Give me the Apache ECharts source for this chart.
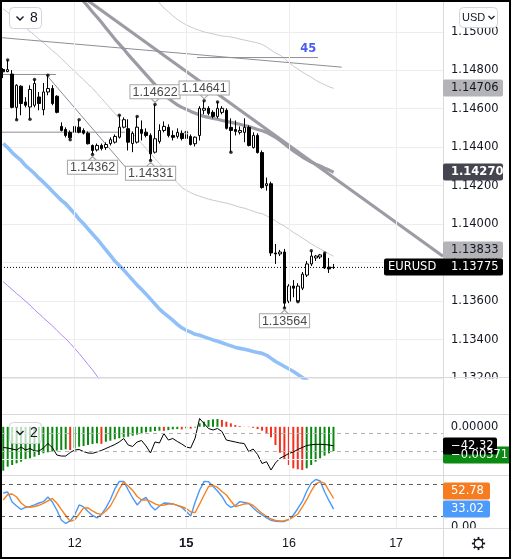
<!DOCTYPE html>
<html>
<head>
<meta charset="utf-8">
<script src="https://cdn.jsdelivr.net/npm/echarts@6.0.0/dist/echarts.min.js"></script>
<style>
html,body{margin:0;padding:0;background:#fff;}
#main{width:511px;height:559px;}
</style>
</head>
<body>
<div id="main"></div>
<script>
var chart = echarts.init(document.getElementById('main'));

// hourly EURUSD bars
var opens = [
  1.14804, 1.14793, 1.14780, 1.14607, 1.14717, 1.14635, 1.14609, 1.14618, 1.14661, 1.14595,
  1.14687, 1.14705, 1.14665, 1.14508, 1.14492, 1.14477, 1.14478, 1.14504, 1.14487, 1.14473,
  1.14409, 1.14386, 1.14409, 1.14398, 1.14419, 1.14426, 1.14452, 1.14504, 1.14496, 1.14419,
  1.14426, 1.14492, 1.14478, 1.14461, 1.14374, 1.14430, 1.14487, 1.14503, 1.14461, 1.14456,
  1.14472, 1.14445, 1.14456, 1.14418, 1.14461, 1.14592, 1.14602, 1.14581, 1.14560, 1.14581,
  1.14592, 1.14503, 1.14492, 1.14477, 1.14477, 1.14503, 1.14398, 1.14461, 1.14372, 1.14200,
  1.14210, 1.13850, 1.13845, 1.13855, 1.13599, 1.13678, 1.13599, 1.13667, 1.13735, 1.13793,
  1.13824, 1.13829, 1.13845, 1.13777, 1.13774
];
var closes = [
  1.14792, 1.14803, 1.14607, 1.14722, 1.14627, 1.14618, 1.14700, 1.14731, 1.14627, 1.14687,
  1.14705, 1.14627, 1.14581, 1.14487, 1.14461, 1.14449, 1.14508, 1.14478, 1.14473, 1.14418,
  1.14383, 1.14409, 1.14393, 1.14414, 1.14439, 1.14456, 1.14504, 1.14543, 1.14426, 1.14472,
  1.14504, 1.14472, 1.14461, 1.14366, 1.14444, 1.14487, 1.14508, 1.14461, 1.14451, 1.14477,
  1.14445, 1.14466, 1.14414, 1.14452, 1.14602, 1.14602, 1.14576, 1.14560, 1.14602, 1.14602,
  1.14498, 1.14487, 1.14482, 1.14487, 1.14503, 1.14409, 1.14461, 1.14372, 1.14190, 1.14210,
  1.13850, 1.13845, 1.13855, 1.13589, 1.13678, 1.13667, 1.13678, 1.13740, 1.13793, 1.13834,
  1.13834, 1.13840, 1.13772, 1.13767, 1.13775
];
var lows = [
  1.14759, 1.14790, 1.14602, 1.14543, 1.14566, 1.14607, 1.14545, 1.14607, 1.14592, 1.14566,
  1.14670, 1.14618, 1.14576, 1.14482, 1.14451, 1.14439, 1.14472, 1.14472, 1.14466, 1.14414,
  1.14362, 1.14378, 1.14383, 1.14386, 1.14409, 1.14419, 1.14445, 1.14498, 1.14383, 1.14374,
  1.14419, 1.14435, 1.14451, 1.14331, 1.14367, 1.14419, 1.14477, 1.14451, 1.14435, 1.14445,
  1.14435, 1.14435, 1.14409, 1.14404, 1.14435, 1.14571, 1.14566, 1.14550, 1.14550, 1.14571,
  1.14492, 1.14374, 1.14461, 1.14466, 1.14426, 1.14404, 1.14393, 1.14367, 1.14184, 1.14174,
  1.13834, 1.13793, 1.13834, 1.13564, 1.13589, 1.13620, 1.13597, 1.13657, 1.13725, 1.13782,
  1.13808, 1.13819, 1.13767, 1.13746, 1.13767
];
var highs = [
  1.14811, 1.14853, 1.14801, 1.14727, 1.14722, 1.14660, 1.14722, 1.14752, 1.14687, 1.14734,
  1.14774, 1.14722, 1.14670, 1.14529, 1.14503, 1.14487, 1.14519, 1.14543, 1.14498, 1.14482,
  1.14414, 1.14419, 1.14419, 1.14425, 1.14451, 1.14466, 1.14566, 1.14555, 1.14545, 1.14482,
  1.14560, 1.14539, 1.14498, 1.14472, 1.14622, 1.14519, 1.14534, 1.14519, 1.14487, 1.14498,
  1.14487, 1.14477, 1.14466, 1.14456, 1.14613, 1.14641, 1.14613, 1.14592, 1.14635, 1.14613,
  1.14602, 1.14550, 1.14539, 1.14508, 1.14550, 1.14513, 1.14477, 1.14472, 1.14383, 1.14242,
  1.14221, 1.13897, 1.13866, 1.13871, 1.13688, 1.13709, 1.13693, 1.13751, 1.13808, 1.13861,
  1.13840, 1.13845, 1.13850, 1.13824, 1.13793
];

// bars that carry a fractal dot, and the bars with a high/low price tag
var fractalHighIdx = [1, 7, 10, 17, 26, 30, 34, 41, 45, 48, 69, 72];
var fractalLowIdx = [3, 6, 15, 20, 33, 51, 63, 66];
var tagLowIdx = [20, 33, 63];
var tagHighIdx = [34, 45];

// channel lines (grey) - upper starts at bar 32, basis at bar 17
var upperStart = 32;
var upperBand = [
  1.15216, 1.15195, 1.15177, 1.15150, 1.15124, 1.15103, 1.15083, 1.15064, 1.15049, 1.15036,
  1.15025, 1.15015, 1.15007, 1.14999, 1.14994, 1.14989, 1.14983, 1.14978, 1.14976, 1.14973,
  1.14968, 1.14962, 1.14957, 1.14952, 1.14947, 1.14942, 1.14934, 1.14921, 1.14905, 1.14889,
  1.14879, 1.14861, 1.14840, 1.14821, 1.14806, 1.14790, 1.14777, 1.14764, 1.14748, 1.14735,
  1.14725, 1.14714, 1.14706
];
var basisStart = 17;
var basisLine = [
  1.15184, 1.15158, 1.15132, 1.15103, 1.15077, 1.15049, 1.15020, 1.14991, 1.14962, 1.14936,
  1.14910, 1.14881, 1.14855, 1.14829, 1.14803, 1.14777, 1.14751, 1.14725, 1.14699, 1.14675,
  1.14654, 1.14636, 1.14620, 1.14607, 1.14597, 1.14586, 1.14576, 1.14568, 1.14560, 1.14555,
  1.14550, 1.14545, 1.14539, 1.14534, 1.14529, 1.14524, 1.14519, 1.14513, 1.14508, 1.14500,
  1.14492, 1.14485, 1.14477, 1.14464, 1.14451, 1.14435, 1.14417, 1.14398, 1.14380, 1.14365,
  1.14349, 1.14336, 1.14323, 1.14312, 1.14302, 1.14291, 1.14281, 1.14270
];
var lowerBand = [
  1.15119, 1.15101, 1.15080, 1.15062, 1.15041, 1.15022, 1.15002, 1.14983, 1.14962, 1.14944,
  1.14923, 1.14902, 1.14884, 1.14861, 1.14840, 1.14816, 1.14795, 1.14772, 1.14751, 1.14727,
  1.14707, 1.14680, 1.14654, 1.14628, 1.14602, 1.14576, 1.14550, 1.14524, 1.14498, 1.14472,
  1.14445, 1.14419, 1.14393, 1.14367, 1.14341, 1.14315, 1.14289, 1.14263, 1.14239, 1.14216,
  1.14190, 1.14177, 1.14163, 1.14153, 1.14145, 1.14137, 1.14130, 1.14124, 1.14119, 1.14114,
  1.14109, 1.14103, 1.14096, 1.14088, 1.14083, 1.14075, 1.14067, 1.14059, 1.14054, 1.14043,
  1.14030, 1.14017, 1.14002, 1.13989, 1.13973, 1.13957, 1.13944, 1.13928, 1.13913, 1.13897,
  1.13884, 1.13871, 1.13858, 1.13845, 1.13833
];
// slow averages, visible until they leave the bottom of the pane
var blueAvg = [
  1.14419, 1.14398, 1.14372, 1.14351, 1.14331, 1.14304, 1.14284, 1.14263, 1.14239, 1.14218,
  1.14195, 1.14171, 1.14148, 1.14124, 1.14106, 1.14080, 1.14054, 1.14025, 1.14002, 1.13975,
  1.13949, 1.13923, 1.13895, 1.13866, 1.13837, 1.13808, 1.13785, 1.13761, 1.13735, 1.13709,
  1.13683, 1.13660, 1.13636, 1.13610, 1.13584, 1.13558, 1.13537, 1.13519, 1.13500, 1.13479,
  1.13461, 1.13448, 1.13438, 1.13427, 1.13422, 1.13414, 1.13406, 1.13398, 1.13391, 1.13383,
  1.13375, 1.13367, 1.13359, 1.13354, 1.13349, 1.13344, 1.13338, 1.13333, 1.13328, 1.13318,
  1.13302, 1.13286, 1.13273, 1.13260, 1.13247, 1.13234, 1.13218, 1.13203, 1.13187, 1.13171
];
var purpleAvg = [
  1.13701, 1.13680, 1.13660, 1.13639, 1.13620, 1.13599, 1.13579, 1.13555, 1.13534, 1.13513,
  1.13492, 1.13472, 1.13448, 1.13425, 1.13404, 1.13380, 1.13354, 1.13328, 1.13299, 1.13270,
  1.13242, 1.13210, 1.13179
];

// hand drawn lines, [bar, price] end points
var thickTrend = [[19.0, 1.15161], [98.5, 1.13833]];
var thinTrends = [
  [[-0.72, 1.14778], [11.8, 1.14778]],
  [[9.74, 1.14774], [27.72, 1.14287]],
  [[-0.72, 1.14478], [27.3, 1.14478]],
  [[-0.72, 1.14970], [75.8, 1.14816]],
  [[43.4, 1.14866], [70.5, 1.14866]]
];
var rangeText = '45';
var rangeTextAt = [68.1, 1.14910];

// lower panes
var histogram = [
  -0.00669, -0.00608, -0.00582, -0.00556, -0.00532, -0.00506, -0.00480, -0.00456, -0.00430, -0.00404,
  -0.00389, -0.00380, -0.00364, -0.00354, -0.00343, -0.00354, -0.00328, -0.00303, -0.00293, -0.00277,
  -0.00262, -0.00252, -0.00260, -0.00227, -0.00212, -0.00191, -0.00175, -0.00160, -0.00151, -0.00136,
  -0.00120, -0.00099, -0.00084, -0.00075, -0.00064, -0.00059, -0.00062, -0.00050, -0.00038, -0.00034,
  -0.00040, -0.00023, -0.00028, -0.00010, 0.00053, 0.00078, 0.00104, 0.00114, 0.00119, 0.00104,
  0.00078, 0.00053, 0.00027, 0.00012, 0.00002, -0.00004, -0.00015, -0.00035, -0.00059, -0.00099,
  -0.00160, -0.00277, -0.00395, -0.00506, -0.00582, -0.00633, -0.00648, -0.00659, -0.00633, -0.00582,
  -0.00532, -0.00480, -0.00440, -0.00405, -0.00371
];
var cci = [
  -61, -67, -78, -89, -56, -89, -72, -100, -100, -67,
  -17, -61, -144, -156, -156, -117, -89, -83, -106, -122,
  -126, -111, -94, -72, -50, -28, 0, 39, -33, -50,
  0, 17, -44, -122, 0, -11, 94, 22, 39, 6,
  -22, -56, -67, 44, 261, 206, 150, 133, 150, 117,
  22, 11, 0, -11, -17, -106, -78, -139, -239, -219,
  -311, -233, -181, -156, -128, -111, -83, -61, -39, -31,
  -26, -26, -28, -33, -42.32
];
var stochK = [
  63.2, 65.1, 46.3, 38.8, 32.3, 36.0, 37.9, 40.7, 44.4, 46.9,
  55.7, 46.3, 31.3, 12.6, 6.0, 10.7, 21.9, 40.7, 36.9, 28.5,
  21.0, 16.3, 22.9, 35.1, 51.0, 70.7, 84.8, 84.8, 68.8, 53.8,
  40.7, 50.1, 54.8, 39.8, 31.3, 38.8, 44.4, 43.9, 42.6, 39.8,
  36.0, 28.5, 20.1, 46.3, 68.8, 84.8, 84.4, 75.4, 66.9, 56.6,
  42.6, 36.0, 39.8, 46.9, 45.4, 43.5, 35.1, 27.6, 21.9, 16.3,
  12.0, 10.1, 9.4, 9.8, 13.5, 21.9, 34.1, 47.3, 66.9, 81.9,
  88.5, 85.7, 65.1, 48.2, 33.02
];
var stochD = [
  50.1, 60.4, 61.3, 55.7, 44.4, 37.9, 36.4, 37.9, 40.1, 43.5,
  48.2, 52.9, 44.4, 32.3, 21.0, 9.8, 12.6, 23.8, 35.1, 35.1,
  29.4, 24.8, 22.9, 29.4, 38.8, 53.8, 70.7, 83.8, 76.3, 67.9,
  56.6, 50.1, 50.1, 47.3, 42.6, 39.8, 40.7, 42.2, 42.6, 39.8,
  37.3, 34.1, 27.6, 26.6, 42.6, 59.4, 75.4, 77.3, 73.5, 66.0,
  59.4, 48.2, 37.9, 39.8, 42.6, 43.5, 39.8, 32.3, 24.8, 19.1,
  14.4, 11.6, 10.7, 11.1, 13.5, 18.2, 23.8, 36.9, 51.0, 66.9,
  80.1, 84.4, 81.0, 66.9, 52.78
];
var cciLevels = [100, -100];
var stochLevels = [80, 20];
var histGridLevel = -0.005;

// time axis: 99 hourly slots, day labels at these slots
var slotCount = 99;
var dayTickIdx = [16, 41, 64, 88];
var dayTickText = ['12', '15', '16', '17'];
var boldDay = '15';

var slots = [];
for (var s = 0; s < slotCount; s++) slots.push(String(s));

function fromBar(start, vals) {
  return vals.map(function (v, k) { return [start + k, v]; });
}
function near(a, b) { return Math.abs(a - b) < 1e-7; }
function signed(v, d) { return (v < 0 ? '\u2212' : '') + Math.abs(v).toFixed(d); }

var GRID_C = '#ededf0';
var TXT = '#131722';
var FONT = 'DejaVu Sans';
var UP_GREEN = '#0a8a10';
var DOWN_RED = '#f4301d';

var series = [];
function add(s) { series.push(s); return series.length - 1; }

// vertical day lines across all panes
add({
  type: 'line', xAxisIndex: 4, yAxisIndex: 4, silent: true, z: 1,
  data: slots.map(function () { return null; }),
  markLine: {
    silent: true, symbol: ['none', 'none'], label: {show: false}, precision: 6,
    lineStyle: {color: GRID_C, width: 1, type: 'solid'},
    data: dayTickIdx.map(function (i) { return {xAxis: i}; })
  }
});

function priceLine(data, color, width) {
  return {type: 'line', xAxisIndex: 0, yAxisIndex: 0, data: data, symbol: 'none',
    silent: true, z: 2, lineStyle: {color: color, width: width}};
}
add(priceLine(fromBar(upperStart, upperBand), '#c9c9ce', 1));
add(priceLine(fromBar(0, lowerBand), '#c9c9ce', 1));
add(priceLine(fromBar(basisStart, basisLine), '#9c9ca5', 3.2));
add(priceLine(fromBar(0, blueAvg), '#91c0f8', 3.6));
add(priceLine(fromBar(0, purpleAvg), '#b186f6', 1));

var trendIdx = add({type: 'line', xAxisIndex: 1, yAxisIndex: 0, data: thickTrend, symbol: 'none',
  silent: true, z: 2, lineStyle: {color: '#9c9ca5', width: 3.2}});
thinTrends.forEach(function (seg) {
  add({type: 'line', xAxisIndex: 1, yAxisIndex: 0, data: seg, symbol: 'none',
    silent: true, z: 2, lineStyle: {color: '#8e8e96', width: 1}});
});

// dotted last-price line
var lastClose = closes[closes.length - 1];
add({type: 'line', xAxisIndex: 1, yAxisIndex: 0, symbol: 'none', silent: true, z: 2,
  data: [[-0.5, lastClose], [slotCount - 0.5, lastClose]],
  lineStyle: {color: '#000', width: 1, type: [1, 2]}});

var tagLabel = {
  show: true, distance: 0, color: '#4a4a4a', fontFamily: 'Liberation Sans', fontSize: 12.5,
  lineHeight: 12, backgroundColor: '#fff', borderColor: '#a5a5a5', borderWidth: 1,
  padding: [1, 2, 0, 2], formatter: function (p) { return p.value.toFixed(5); }
};
var marks = [];
tagLowIdx.forEach(function (i) {
  marks.push({coord: [i, lows[i]], value: lows[i], symbol: 'path://M5,0L10,6L0,6Z',
    symbolSize: [8, 4], symbolOffset: [0, 4], label: {position: 'bottom'}});
});
tagHighIdx.forEach(function (i) {
  marks.push({coord: [i, highs[i]], value: highs[i], symbol: 'path://M0,0L10,0L5,6Z',
    symbolSize: [8, 4], symbolOffset: [0, -4], label: {position: 'top'}});
});

var candleIdx = add({
  type: 'candlestick', xAxisIndex: 0, yAxisIndex: 0, z: 3, barWidth: 3, silent: true,
  data: opens.map(function (o, i) { return [o, closes[i], lows[i], highs[i]]; }),
  itemStyle: {color: '#fff', color0: '#000', borderColor: '#000', borderColor0: '#000', borderWidth: 1},
  markPoint: {
    silent: true, precision: 6, itemStyle: {color: '#fff', borderColor: '#a5a5a5', borderWidth: 1},
    label: tagLabel, data: marks
  }
});

var dots = [];
fractalHighIdx.forEach(function (i) { dots.push([i, highs[i]]); });
fractalLowIdx.forEach(function (i) { dots.push([i, lows[i]]); });
add({type: 'scatter', xAxisIndex: 0, yAxisIndex: 0, z: 4, silent: true, symbolSize: 3.5,
  itemStyle: {color: '#000'}, data: dots});

var histIdx = add({
  type: 'bar', xAxisIndex: 2, yAxisIndex: 1, barWidth: 2, silent: true, z: 2,
  data: histogram,
  itemStyle: {color: function (p) {
    var i = p.dataIndex;
    return (i === 0 || histogram[i] >= histogram[i - 1]) ? UP_GREEN : DOWN_RED;
  }},
  markLine: {silent: true, symbol: ['none', 'none'], label: {show: false}, precision: 6,
    lineStyle: {color: GRID_C, width: 1, type: 'solid'}, data: [{yAxis: histGridLevel}]}
});
var cciIdx = add({
  type: 'line', xAxisIndex: 2, yAxisIndex: 2, data: cci, symbol: 'none', silent: true, z: 3,
  lineStyle: {color: '#000', width: 1},
  markLine: {silent: true, symbol: ['none', 'none'], label: {show: false}, precision: 6,
    lineStyle: {color: '#b5b5b8', width: 1, type: [4, 4]},
    data: cciLevels.map(function (v) { return {yAxis: v}; })}
});
var kIdx = add({
  type: 'line', xAxisIndex: 3, yAxisIndex: 3, data: stochK, symbol: 'none', silent: true, z: 3,
  lineStyle: {color: '#4a98fb', width: 1.4},
  markLine: {silent: true, symbol: ['none', 'none'], label: {show: false}, precision: 6,
    lineStyle: {color: '#5d606b', width: 1, type: [4, 4]},
    data: stochLevels.map(function (v) { return {yAxis: v}; })}
});
add({type: 'line', xAxisIndex: 3, yAxisIndex: 3, data: stochD, symbol: 'none', silent: true, z: 3,
  lineStyle: {color: '#f5821f', width: 1.4}});

var axisLab = {color: TXT, fontFamily: FONT, fontSize: 11.5, margin: 8};

var option = {
  animation: false,
  backgroundColor: '#fff',
  textStyle: {fontFamily: FONT},
  grid: [
    {left: 1, top: 1, width: 442, height: 377},
    {left: 1, top: 415, width: 442, height: 61},
    {left: 1, top: 476, width: 442, height: 52},
    {left: 1, top: 1, width: 442, height: 527}
  ],
  xAxis: [
    {type: 'category', gridIndex: 0, data: slots, show: false},
    {type: 'value', gridIndex: 0, position: 'top', min: -0.5, max: slotCount - 0.5, show: false},
    {type: 'category', gridIndex: 1, data: slots, show: false},
    {type: 'category', gridIndex: 2, data: slots,
      axisLine: {show: false}, axisTick: {show: false}, splitLine: {show: false},
      axisLabel: {
        color: TXT, fontFamily: 'Liberation Sans', fontSize: 12.5, margin: 9,
        interval: function (idx) { return dayTickIdx.indexOf(idx) >= 0; },
        formatter: function (val, idx) {
          var t = dayTickText[dayTickIdx.indexOf(idx)] || '';
          return t === boldDay ? '{b|' + t + '}' : t;
        },
        rich: {b: {fontWeight: 'bold', fontFamily: 'Liberation Sans', fontSize: 13, color: TXT}}
      }},
    {type: 'category', gridIndex: 3, data: slots, show: false}
  ],
  yAxis: [
    {type: 'value', gridIndex: 0, position: 'right', min: 1.132, max: 1.1516, interval: 0.002,
      axisLine: {show: false}, axisTick: {show: false},
      splitLine: {lineStyle: {color: GRID_C, width: 1}},
      axisLabel: Object.assign({}, axisLab, {formatter: function (v) {
        var k = Math.round((v - 1.132) / 0.002);
        return near(1.132 + k * 0.002, v) ? v.toFixed(5) : '';
      }})},
    {type: 'value', gridIndex: 1, position: 'right', min: -0.0075, max: 0.0018, interval: 0.0025,
      axisLine: {show: false}, axisTick: {show: false}, splitLine: {show: false},
      axisLabel: Object.assign({}, axisLab, {formatter: function (v) {
        return (near(v, 0) || near(v, -0.005)) ? signed(v, 5) : '';
      }})},
    {type: 'value', gridIndex: 1, min: -377.8, max: 300, show: false},
    {type: 'value', gridIndex: 2, position: 'right', min: -2.5, max: 95, interval: 2.5,
      axisLine: {show: false}, axisTick: {show: false}, splitLine: {show: false},
      axisLabel: Object.assign({}, axisLab, {formatter: function (v) {
        return near(v, 0) ? '0.00' : '';
      }})},
    {type: 'value', gridIndex: 3, min: 0, max: 1, show: false}
  ],
  series: series
};
chart.setOption(option);

// ---- price tags, buttons and frame ----
function py(si, v) { return chart.convertToPixel({seriesIndex: si}, [0, v])[1]; }
function tag(x, y, w, bg, fg, txt, bold) {
  var yy = Math.round(y);
  return [
    {type: 'rect', z: 110, shape: {x: x, y: yy - 8.5, width: w, height: 17, r: 2}, style: {fill: bg}},
    {type: 'text', z: 111, x: 451, y: yy + 0.5, style: {text: txt, fill: fg, fontFamily: FONT,
      fontSize: 11.5, fontWeight: bold ? 'bold' : 'normal', align: 'left', verticalAlign: 'middle',
      textAlign: 'left', textVerticalAlign: 'middle'}}
  ];
}
function label(x, y, txt, size, color, weight, family) {
  return {type: 'text', z: 112, x: x, y: y, style: {text: txt, fill: color, fontFamily: family || FONT,
    fontSize: size, fontWeight: weight || 'normal', align: 'left', verticalAlign: 'middle',
    textAlign: 'left', textVerticalAlign: 'middle'}};
}
function chevron(x, y) {
  return {type: 'polyline', z: 112, shape: {points: [[x, y], [x + 3.5, y + 3.5], [x + 7, y]]},
    style: {stroke: TXT, lineWidth: 1.4, fill: null}};
}

var g = [];
// covers that cut labels at the pane edges
g.push({type: 'rect', z: 105, shape: {x: 444, y: 378.5, width: 66, height: 36}, style: {fill: '#fff'}});
g.push({type: 'rect', z: 105, shape: {x: 444, y: 528.5, width: 66, height: 7}, style: {fill: '#fff'}});

var closeY = py(candleIdx, lastClose);
var upY = py(candleIdx, upperBand[upperBand.length - 1]);
var midY = py(candleIdx, basisLine[basisLine.length - 1]);
var loY = Math.min(py(candleIdx, lowerBand[lowerBand.length - 1]), closeY - 17);
g = g.concat(tag(443, upY, 60, '#b4b4b8', TXT, upperBand[upperBand.length - 1].toFixed(5)));
g = g.concat(tag(443, midY, 60, '#45454f', '#fff', basisLine[basisLine.length - 1].toFixed(5), true));
g = g.concat(tag(443, loY, 60, '#b4b4b8', TXT, lowerBand[lowerBand.length - 1].toFixed(5)));
g = g.concat(tag(384, closeY, 119, '#000', '#fff', lastClose.toFixed(5)));
g.push(label(388, Math.round(closeY) + 0.5, 'EURUSD', 11.5, '#fff'));

var cciLast = cci[cci.length - 1];
var histLast = histogram[histogram.length - 1];
var cciY = py(cciIdx, cciLast);
var histY = Math.max(py(histIdx, histLast), cciY + 9.5);
g = g.concat(tag(443, histY, 68, UP_GREEN, '#fff', signed(histLast, 5)));
g = g.concat(tag(443, cciY, 54, '#000', '#fff', signed(cciLast, 2)));

var kLast = stochK[stochK.length - 1];
var dLast = stochD[stochD.length - 1];
var kY = py(kIdx, kLast);
var dY = Math.min(py(kIdx, dLast), kY - 18);
g = g.concat(tag(443, dY, 47, '#f57c20', '#fff', dLast.toFixed(2)));
g = g.concat(tag(443, kY, 47, '#4c9af9', '#fff', kLast.toFixed(2)));

var rp = chart.convertToPixel({seriesIndex: trendIdx}, rangeTextAt);
g.push(label(rp[0] - 7, rp[1], rangeText, 11.5, '#4b5cf0', 'bold'));

// pane separators and price scale edge
[377.5, 414.5, 475.5, 528.5].forEach(function (y) {
  g.push({type: 'line', z: 106, shape: {x1: 0, y1: y, x2: 511, y2: y}, style: {stroke: '#dadadd', lineWidth: 1}});
});
g.push({type: 'line', z: 106, shape: {x1: 443.5, y1: 0, x2: 443.5, y2: 559}, style: {stroke: '#dadadd', lineWidth: 1}});

// collapse buttons
g.push({type: 'rect', z: 111, shape: {x: 9.5, y: 7.5, width: 32, height: 21, r: 4},
  style: {fill: '#fff', stroke: '#d1d4dc', lineWidth: 1}});
g.push(chevron(16.5, 16.5));
g.push(label(30, 18.5, '8', 14, TXT, 'normal', 'Liberation Sans'));
g.push({type: 'rect', z: 111, shape: {x: 9.5, y: 422.5, width: 32, height: 21, r: 4},
  style: {fill: 'rgba(255,255,255,0.72)', stroke: '#d1d4dc', lineWidth: 1}});
g.push(chevron(16.5, 431));
g.push(label(30, 433.5, '2', 14, TXT, 'normal', 'Liberation Sans'));
// currency button
g.push({type: 'rect', z: 111, shape: {x: 459.5, y: 7.5, width: 38, height: 20, r: 4},
  style: {fill: '#fff', stroke: '#d1d4dc', lineWidth: 1}});
g.push(label(462, 17.5, 'USD', 11, TXT, 'normal', 'Liberation Sans'));
g.push({type: 'polyline', z: 112, shape: {points: [[488.5, 16], [491.5, 19], [494.5, 16]]},
  style: {stroke: TXT, lineWidth: 1.2, fill: null}});

// settings gear
var gx = 478.5, gy = 543.5;
g.push({type: 'circle', z: 112, shape: {cx: gx, cy: gy, r: 4.2}, style: {fill: null, stroke: TXT, lineWidth: 1.2}});
for (var a = 0; a < 8; a++) {
  var ang = a * Math.PI / 4;
  g.push({type: 'line', z: 112, shape: {x1: gx + Math.cos(ang) * 4.2, y1: gy + Math.sin(ang) * 4.2,
    x2: gx + Math.cos(ang) * 6.6, y2: gy + Math.sin(ang) * 6.6}, style: {stroke: TXT, lineWidth: 1.8}});
}

// outer frame
g.push({type: 'rect', z: 120, shape: {x: 1, y: 1, width: 509, height: 557},
  style: {fill: null, stroke: '#000', lineWidth: 2}});

chart.setOption({graphic: g});
</script>
</body>
</html>
